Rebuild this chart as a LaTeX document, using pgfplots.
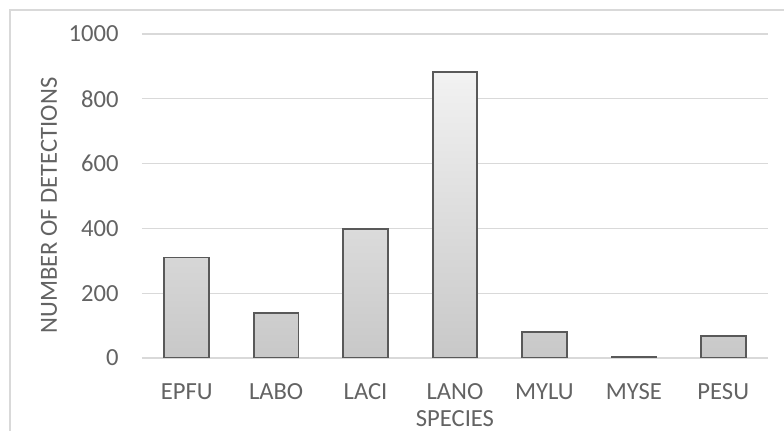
\documentclass[border=0pt]{standalone}
\usepackage{fontspec}
\setmainfont{Carlito}
\usepackage{pgfplots}
\pgfplotsset{compat=1.18}
\definecolor{txt}{HTML}{636363}
\definecolor{gridgray}{HTML}{D9D9D9}
\definecolor{barline}{HTML}{595959}
\definecolor{bartop}{HTML}{F2F2F2}
\definecolor{barbot}{HTML}{C8C8C8}
\begin{document}
\begin{tikzpicture}
\begin{axis}[
    scale only axis,
    width=313pt, height=162pt,
    ybar, bar width=0.5,
    xmin=-0.5, xmax=6.5,
    ymin=0, ymax=1000,
    ytick={0,200,...,1000},
    xtick=data,
    xticklabels={EPFU,LABO,LACI,LANO,MYLU,MYSE,PESU},
    axis line style={draw=none},
    major tick length=0pt,
    ymajorgrids, xmajorgrids=false,
    grid style={draw=gridgray, line width=0.65pt},
    font=\fontsize{12.3}{14}\selectfont,
    ticklabel style={text=txt, inner sep=0pt},
    /pgf/number format/assume math mode=true,
    /pgf/number format/1000 sep={},
    yticklabel style={anchor=east, xshift=-11.5pt},
    xticklabel style={anchor=base, yshift=-21pt},
    xlabel={SPECIES},
    ylabel={NUMBER OF DETECTIONS},
    every axis x label/.style={at={(axis description cs:0.5,-0.2120)}, anchor=base, inner sep=0pt, text=txt},
    every axis y label/.style={at={(axis description cs:-0.1358,0.4704)}, rotate=90, anchor=base, inner sep=0pt, text=txt},
]
% counts of detections per species
\addplot[draw=barline, line width=0.9pt, top color=bartop, bottom color=barbot]
    coordinates {(0,310) (1,139) (2,399) (3,883) (4,79) (5,4) (6,67)};
\end{axis}
% chart area frame (cut at right and bottom)
\draw[draw=gridgray, line width=0.7pt] (-66pt,-40pt) -- (-66pt,174pt) -- (330pt,174pt);
\pgfresetboundingbox
\path[use as bounding box] (-71pt,-36.5pt) rectangle (321pt,179pt);
\end{tikzpicture}
\end{document}
